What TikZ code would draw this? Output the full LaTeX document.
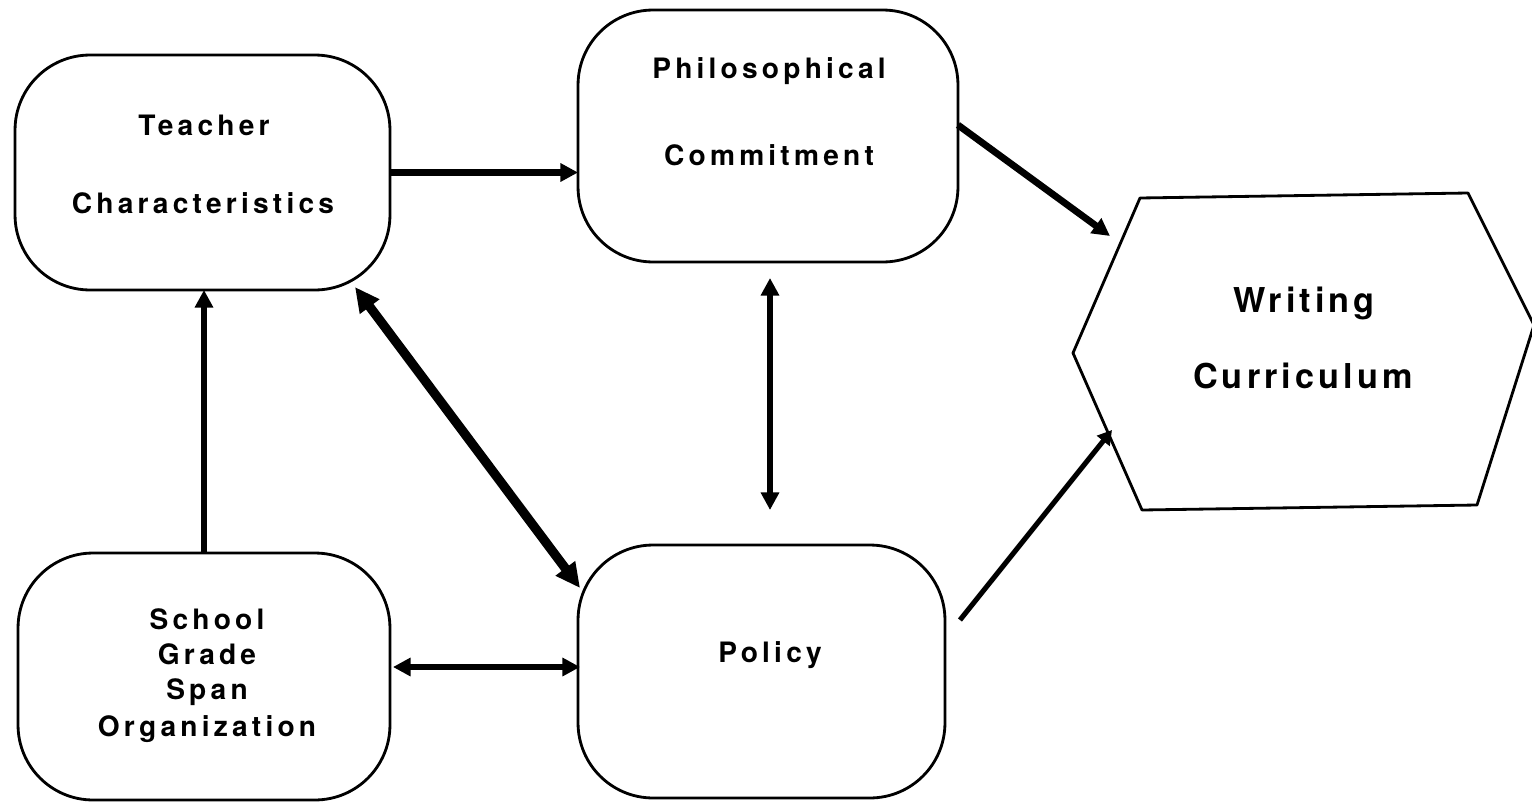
\documentclass[tikz,border=0pt]{standalone}
\usepackage{fontspec}
\setmainfont{TeX Gyre Heros}
\newfontfamily\boxfont[LetterSpace=15]{TeX Gyre Heros Bold}
\newfontfamily\hexfont[LetterSpace=12]{TeX Gyre Heros Bold}
\usetikzlibrary{arrows.meta,calc}
\tikzset{
  box/.style={draw, line width=1.6pt, rounded corners=1.5cm, inner sep=0pt, outer sep=0pt},
  lbl/.style={anchor=base, inner sep=0pt, font=\boxfont\fontsize{16pt}{18pt}\selectfont},
  biglbl/.style={anchor=base, inner sep=0pt, font=\hexfont\fontsize{19.5pt}{22pt}\selectfont},
  flow/.style={line width=3.9pt, -{Triangle[length=10pt,width=10pt]}},
  flowthin/.style={line width=2.9pt, -{Triangle[length=8pt,width=9pt]}},
  both/.style={line width=3.9pt, {Triangle[length=10pt,width=10pt]}-{Triangle[length=10pt,width=10pt]}},
  heavy/.style={line width=5.3pt, {Triangle[length=14pt,width=13pt]}-{Triangle[length=14pt,width=13pt]}},
}
\begin{document}
\begin{tikzpicture}[x=0.02cm, y=-0.02cm]
\useasboundingbox (0,0) rectangle (1532,805);

% rounded boxes
\node[box, minimum width=7.5cm,  minimum height=4.7cm]  (teacher) at (202.5,172.5) {};
\node[box, minimum width=7.6cm,  minimum height=5.04cm] (phil)    at (768,136) {};
\node[box, minimum width=7.44cm, minimum height=4.94cm] (school)  at (204,676.5) {};
\node[box, minimum width=7.34cm, minimum height=5.06cm] (policy)  at (761.5,671.5) {};

% hexagon for the outcome
\draw[line width=1.6pt, line join=round]
  (1140,198) -- (1468,193) -- (1534,325) -- (1477,505) -- (1142,510) -- (1073,353) -- cycle;
\coordinate (wc-top) at (1110,236);
\coordinate (wc-low) at (1112,430);

% labels
\node[lbl] (t-teacher)  at (204,135) {Teacher};
\node[lbl] (t-chars)    at (203,213) {Characteristics};
\node[lbl] (t-philo)    at (769,78)  {Philosophical};
\node[lbl] (t-commit)   at (769,165) {Commitment};
\node[lbl] (t-school)   at (207,629) {School};
\node[lbl] (t-grade)    at (207,664) {Grade};
\node[lbl] (t-span)     at (207,699) {Span};
\node[lbl] (t-org)      at (207,736) {Organization};
\node[lbl] (t-policy)   at (770,662) {Policy};
\node[biglbl] (t-writing) at (1304,312) {Writing};
\node[biglbl] (t-curric)  at (1303,388) {Curriculum};

% connectors
\draw[flow] (teacher.east) -- (teacher.east -| phil.west);
\draw[flow] ([shift={(0,-11)}]phil.east) -- (wc-top);
\draw[flowthin] ([shift={(15,-51.5)}]policy.east) -- (wc-low);
\draw[flow] (school.north) -- (school.north |- teacher.south);
\draw[heavy] ([shift={(-35,-3)}]teacher.south east) -- ([shift={(2,43)}]policy.north west);
\draw[both] ([shift={(2,16)}]phil.south) -- ($(phil.south |- policy.north)+(2,-35)$);
\draw[both] ([shift={(3,-9.5)}]school.east) -- ([shift={(2,-4.5)}]policy.west);
\end{tikzpicture}
\end{document}
